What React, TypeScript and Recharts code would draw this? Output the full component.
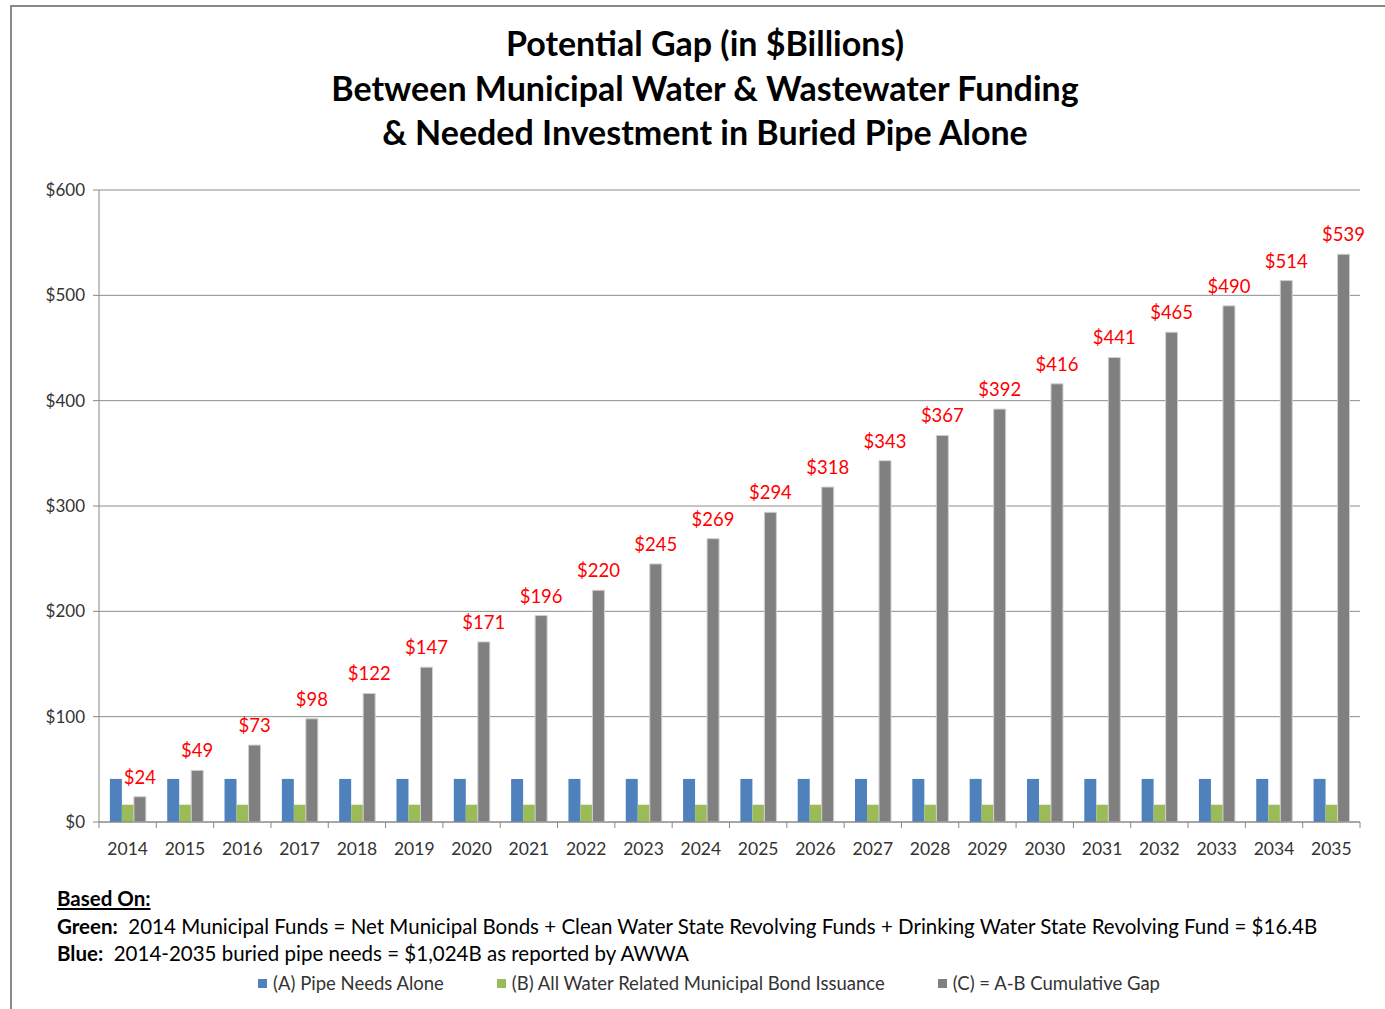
import { BarChart, Bar, XAxis, YAxis, CartesianGrid, Legend, LabelList } from 'recharts';

const years = [
  '2014', '2015', '2016', '2017', '2018', '2019', '2020', '2021', '2022', '2023', '2024',
  '2025', '2026', '2027', '2028', '2029', '2030', '2031', '2032', '2033', '2034', '2035',
];
const pipeNeeds = [
  40.9, 40.9, 40.9, 40.9, 40.9, 40.9, 40.9, 40.9, 40.9, 40.9, 40.9,
  40.9, 40.9, 40.9, 40.9, 40.9, 40.9, 40.9, 40.9, 40.9, 40.9, 40.9,
];
const bondIssuance = [
  16.4, 16.4, 16.4, 16.4, 16.4, 16.4, 16.4, 16.4, 16.4, 16.4, 16.4,
  16.4, 16.4, 16.4, 16.4, 16.4, 16.4, 16.4, 16.4, 16.4, 16.4, 16.4,
];
const cumulativeGap = [
  24, 49, 73, 98, 122, 147, 171, 196, 220, 245, 269,
  294, 318, 343, 367, 392, 416, 441, 465, 490, 514, 539,
];
const yTicks = [0, 100, 200, 300, 400, 500, 600];

const data = years.map((year, i) => ({
  year,
  pipe: pipeNeeds[i],
  bond: bondIssuance[i],
  gap: cumulativeGap[i],
}));

const FONT = 'Lato, "Open Sans", sans-serif';
const PLOT_LEFT = 99;
const PLOT_RIGHT = 1360;
const PLOT_TOP = 190;
const PLOT_BOTTOM = 822;
const BAND = (PLOT_RIGHT - PLOT_LEFT) / years.length;

const legendItems = [
  { label: '(A) Pipe Needs Alone', color: '#4F81BD' },
  { label: '(B) All Water Related Municipal Bond Issuance', color: '#9BBB59' },
  { label: '(C) = A-B Cumulative Gap', color: '#808080' },
];

function YearTick(props: any) {
  const { x, payload, index } = props;
  const last = index === years.length - 1;
  return (
    <g>
      <line x1={x - BAND / 2} x2={x - BAND / 2} y1={PLOT_BOTTOM} y2={PLOT_BOTTOM + 6} stroke="#888" />
      {last && <line x1={x + BAND / 2} x2={x + BAND / 2} y1={PLOT_BOTTOM} y2={PLOT_BOTTOM + 6} stroke="#888" />}
      <text x={x} y={PLOT_BOTTOM + 33} textAnchor="middle" fill="#333" fontSize={17.5} fontFamily={FONT}>
        {payload.value}
      </text>
    </g>
  );
}

function LegendContent() {
  return (
    <div style={{ display: 'flex', justifyContent: 'center', gap: 53, fontFamily: FONT, fontSize: 18.5, color: '#333' }}>
      {legendItems.map((item) => (
        <span key={item.label} style={{ display: 'flex', alignItems: 'center' }}>
          <span style={{ width: 9, height: 9, background: item.color, marginRight: 6, display: 'inline-block' }} />
          {item.label}
        </span>
      ))}
    </div>
  );
}

export default function App() {
  return (
    <div style={{ position: 'absolute', left: 0, top: 0, width: 1385, height: 1009, background: '#fff', overflow: 'hidden' }}>
      <div style={{ position: 'absolute', left: 10, top: 5, width: 1400, height: 1100, borderLeft: '2px solid #888', borderTop: '2px solid #888' }} />
      <div
        style={{
          position: 'absolute', left: 0, top: 21, width: 1410, textAlign: 'center',
          fontFamily: FONT, fontWeight: 'bold', fontSize: 34, lineHeight: '44.5px', color: '#000',
        }}
      >
        Potential Gap (in $Billions)<br />
        Between Municipal Water &amp; Wastewater Funding<br />
        &amp; Needed Investment in Buried Pipe Alone
      </div>
      <div style={{ position: 'absolute', left: 0, top: 0 }}>
        <BarChart
          width={1385}
          height={1009}
          data={data}
          margin={{ top: PLOT_TOP, right: 1385 - PLOT_RIGHT, left: PLOT_LEFT - 60, bottom: 1009 - PLOT_BOTTOM - 30 - 22 }}
          barCategoryGap="19%"
          barGap={0}
        >
          <CartesianGrid vertical={false} stroke="#8c8c8c" />
          <XAxis dataKey="year" stroke="#888" tickLine={false} tick={<YearTick />} height={30} interval={0} />
          <YAxis
            domain={[0, 600]}
            ticks={yTicks}
            width={60}
            stroke="#888"
            tickSize={6}
            tick={{ fill: '#333', fontSize: 17, fontFamily: FONT, dx: -6 }}
            tickFormatter={(v) => `$${v}`}
          />
          <Legend
            content={<LegendContent />}
            wrapperStyle={{ position: 'absolute', top: 972, left: 0, width: 1418 }}
          />
          <Bar dataKey="pipe" fill="#4F81BD" isAnimationActive={false} />
          <Bar dataKey="bond" fill="#9BBB59" isAnimationActive={false} />
          <Bar dataKey="gap" fill="#808080" stroke="#d0d0d0" strokeWidth={1} isAnimationActive={false}>
            <LabelList
              dataKey="gap"
              position="top"
              offset={13}
              formatter={(v: any) => `$${v}`}
              fill="#FF0000"
              fontSize={18.5}
              fontFamily={FONT}
            />
          </Bar>
        </BarChart>
      </div>
      <div style={{ position: 'absolute', left: 57, top: 885, fontFamily: FONT, fontSize: 20.5, lineHeight: '27.5px', color: '#000' }}>
        <div style={{ fontWeight: 'bold', textDecoration: 'underline' }}>Based On:</div>
        <div>
          <b>Green:</b>&nbsp; 2014 Municipal Funds = Net Municipal Bonds + Clean Water State Revolving Funds + Drinking Water State Revolving Fund = $16.4B
        </div>
        <div>
          <b>Blue:</b>&nbsp; 2014-2035 buried pipe needs = $1,024B as reported by AWWA
        </div>
      </div>
    </div>
  );
}
